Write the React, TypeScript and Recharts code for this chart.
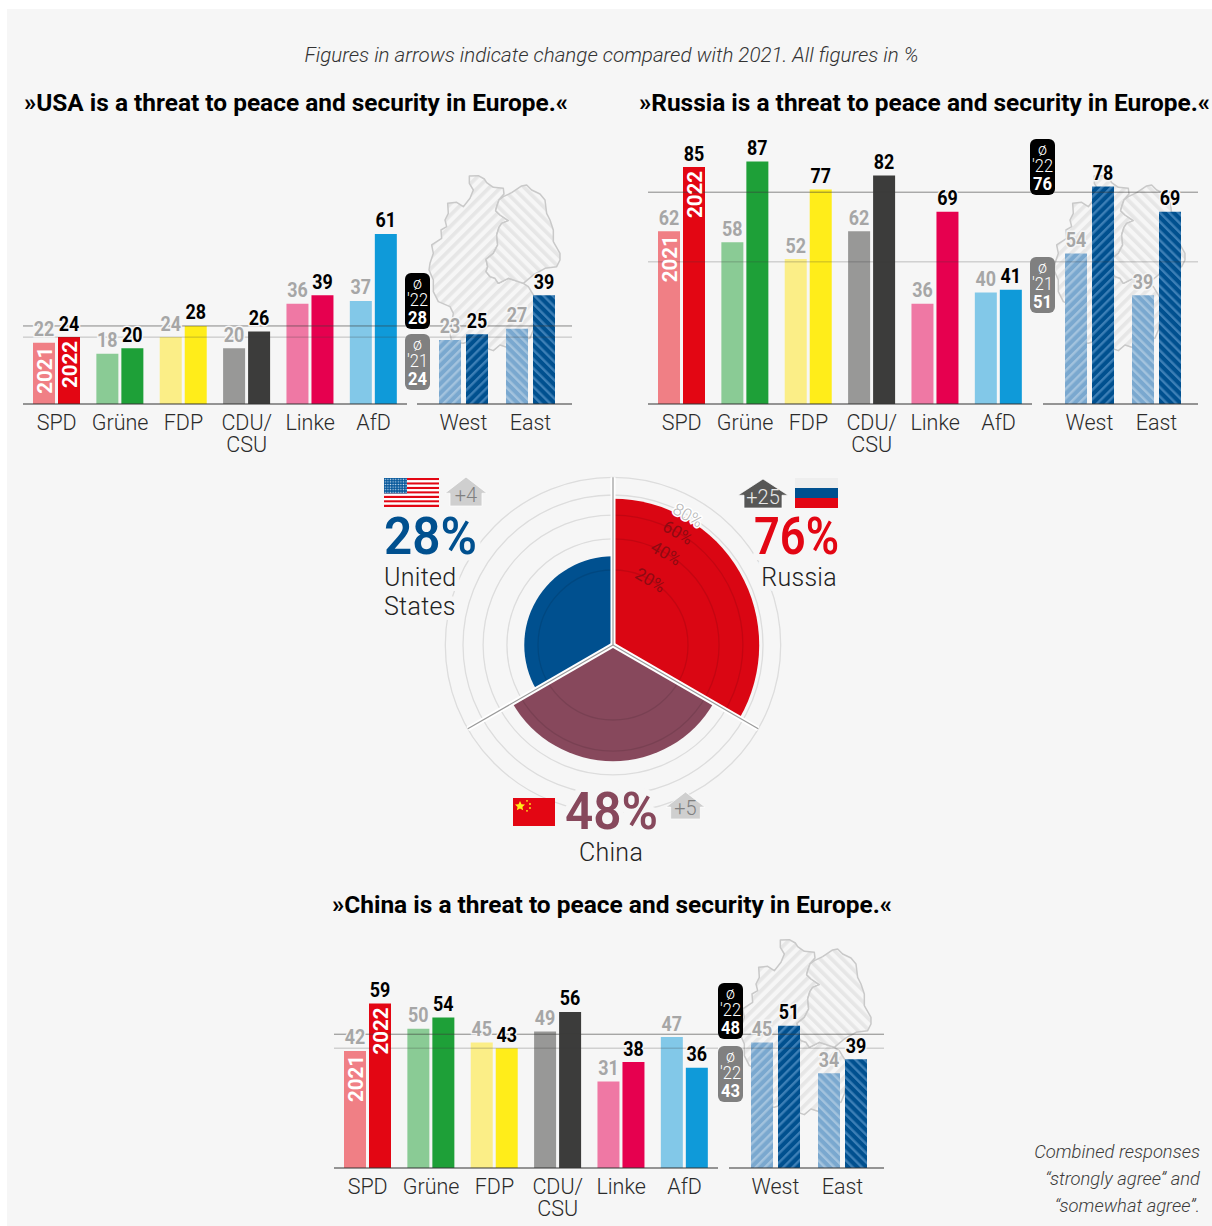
import React from 'react';
import {
  BarChart,
  Bar,
  Cell,
  LabelList,
  ReferenceLine,
  XAxis,
  YAxis,
  RadialBarChart,
  RadialBar,
  PolarAngleAxis,
  PolarRadiusAxis,
  PolarGrid,
} from 'recharts';

const PARTIES = ['SPD', 'Grüne', 'FDP', 'CDU/\nCSU', 'Linke', 'AfD'];
const REGIONS = ['West', 'East'];

const PARTY_COLORS_2021 = ['#f07f85', '#8acb95', '#fbee87', '#989897', '#ef78a4', '#82c8e8'];
const PARTY_COLORS_2022 = ['#e30613', '#1ea038', '#ffed1a', '#3c3c3b', '#e6004f', '#0f9ad9'];

const USA_PARTY_2021 = [22, 18, 24, 20, 36, 37];
const USA_PARTY_2022 = [24, 20, 28, 26, 39, 61];
const USA_REGION_2021 = [23, 27];
const USA_REGION_2022 = [25, 39];

const RUSSIA_PARTY_2021 = [62, 58, 52, 62, 36, 40];
const RUSSIA_PARTY_2022 = [85, 87, 77, 82, 69, 41];
const RUSSIA_REGION_2021 = [54, 39];
const RUSSIA_REGION_2022 = [78, 69];

const CHINA_PARTY_2021 = [42, 50, 45, 49, 31, 47];
const CHINA_PARTY_2022 = [59, 54, 43, 56, 38, 36];
const CHINA_REGION_2021 = [45, 34];
const CHINA_REGION_2022 = [51, 39];

const COUNTRIES = ['Russia', 'China', 'United States'];
const COUNTRY_SHARE = [76, 48, 28];
const COUNTRY_COLORS = ['#da0613', '#87485c', '#00508f'];
const RING_TICKS = [20, 40, 60, 80, 100];

const BG = '#f6f6f6';
const FONT = 'Roboto, sans-serif';

// outlines of the two halves of Germany behind the regional bars
const WEST_OUTLINE =
  'M133 18L160 17L178 27L185 38L205 52L235 55L237 72L222 90L215 110L212 122L225 135L250 152L230 160L222 172L215 195L218 225L205 250L183 268L188 290L183 305L195 320L210 325L220 340L250 325L280 335L295 340L310 350L325 375L340 400L332 440L325 480L315 505L285 510L255 535L225 525L205 542L185 535L145 510L115 520L80 515L75 490L85 430L75 410L40 395L25 365L25 330L12 300L15 280L25 250L20 225L50 205L48 180L65 170L60 150L70 130L68 100L95 97L115 110L135 85L145 60L133 40Z';
const EAST_OUTLINE =
  'M235 80L260 68L290 48L305 45L320 60L345 72L360 90L365 130L375 150L385 180L385 215L405 250L405 270L395 290L360 295L325 315L295 340L280 335L250 325L220 340L210 325L195 320L183 305L188 290L183 268L205 250L218 225L215 195L222 172L230 160L250 152L225 135L212 122L215 110L222 90Z';

function GermanyMap({ left, top }: { left: number; top: number }) {
  return (
    <svg style={{ position: 'absolute', left, top, overflow: 'visible' }} width={145} height={190}>
      <g transform="scale(0.3333)" strokeLinejoin="round">
        <path d={WEST_OUTLINE} fill="url(#map-west)" stroke="#c9c9c9" strokeWidth={4.5} />
        <path d={EAST_OUTLINE} fill="url(#map-east)" stroke="#c9c9c9" strokeWidth={4.5} />
      </g>
    </svg>
  );
}

function Hatch({ id, base, stripe, angle, period, size }: any) {
  return (
    <pattern id={id} patternUnits="userSpaceOnUse" width={period} height={period} patternTransform={`rotate(${angle})`}>
      <rect width={period} height={period} fill={base} />
      <rect width={size} height={period} fill={stripe} />
    </pattern>
  );
}

// value above a bar; the first pair of every chart also carries its year inside the bar
const valueLabel = (color: string, year?: string) => (props: any) => {
  const { x, y, width, value, index } = props;
  const cx = x + width / 2;
  return (
    <g>
      <text
        x={cx}
        y={y - 6.5}
        textAnchor="middle"
        fontFamily={FONT}
        fontWeight={700}
        fontSize={20}
        fill={color}
        stroke={BG}
        strokeWidth={3}
        paintOrder="stroke"
        textLength={20.5}
        lengthAdjust="spacingAndGlyphs"
      >
        {value}
      </text>
      {year && index === 0 ? (
        <text
          transform={`translate(${cx + 7.5},${y + 4}) rotate(-90)`}
          textAnchor="end"
          fontFamily={FONT}
          fontWeight={700}
          fontSize={21}
          fill="#fff"
          textLength={47}
          lengthAdjust="spacingAndGlyphs"
        >
          {year}
        </text>
      ) : null}
    </g>
  );
};

function CategoryTick({ x, y, payload }: any) {
  const lines = String(payload.value).split('\n');
  return (
    <text textAnchor="middle" fontFamily={FONT} fontWeight={300} fontSize={21.5} fill="#2b2b2b">
      {lines.map((line, i) => (
        <tspan key={line} x={x} y={y + 18 + i * 21.5}>
          {line}
        </tspan>
      ))}
    </text>
  );
}

const toRows = (names: string[], a: number[], b: number[]) =>
  names.map((name, i) => ({ name, y2021: a[i], y2022: b[i] }));

function GroupBars({ left, top, width, pad, gap, rows, mean22, mean21, fills21, fills22, withYear }: any) {
  return (
    <div style={{ position: 'absolute', left, top }}>
      <BarChart
        width={width}
        height={335}
        data={rows}
        margin={{ top: 0.3, right: 0, bottom: 0, left: 0 }}
        barSize={22}
        barGap={gap}
      >
        <XAxis
          dataKey="name"
          interval={0}
          height={56}
          padding={pad}
          tick={CategoryTick}
          tickLine={false}
          axisLine={{ stroke: '#333', strokeWidth: 1.2 }}
        />
        <YAxis hide domain={[0, 100]} />
        <Bar dataKey="y2021" isAnimationActive={false}>
          {rows.map((r: any, i: number) => (
            <Cell key={r.name} fill={fills21[i]} />
          ))}
          <LabelList dataKey="y2021" content={valueLabel('#a6a6a6', withYear ? '2021' : undefined)} />
        </Bar>
        <Bar dataKey="y2022" isAnimationActive={false}>
          {rows.map((r: any, i: number) => (
            <Cell key={r.name} fill={fills22[i]} />
          ))}
          <LabelList dataKey="y2022" content={valueLabel('#000', withYear ? '2022' : undefined)} />
        </Bar>
        <ReferenceLine y={mean22} stroke="#3c3c3b" strokeOpacity={0.6} />
        <ReferenceLine y={mean21} stroke="#3c3c3b" strokeOpacity={0.3} />
      </BarChart>
    </div>
  );
}

function MeanBadge({ x, y, fill, year, value }: any) {
  const cx = x + 12.5;
  const common = { x: cx, textAnchor: 'middle' as const, fontFamily: FONT, fill: '#fff' };
  return (
    <g>
      <rect x={x} y={y} width={25} height={56} rx={6} fill={fill} />
      <text {...common} y={y + 16} fontSize={16} fontWeight={300}>
        ø
      </text>
      <text {...common} y={y + 33} fontSize={18} fontWeight={300} textLength={21} lengthAdjust="spacingAndGlyphs">
        {year}
      </text>
      <text {...common} y={y + 50.5} fontSize={19} fontWeight={700} textLength={19} lengthAdjust="spacingAndGlyphs">
        {value}
      </text>
    </g>
  );
}

function ThreatGroup({ dx, dy, regionDx, badgeX, party21, party22, region21, region22, mean22, mean21, badge21Year, badgeTop, badge21Top }: any) {
  const regionFills21 = ['url(#west-21)', 'url(#east-21)'];
  const regionFills22 = ['url(#west-22)', 'url(#east-22)'];
  return (
    <>
      <GermanyMap left={425 + dx} top={170 + dy} />
      <GroupBars
        left={23 + dx}
        top={125 + dy}
        width={384}
        gap={3}
        pad={{ left: 2, right: 1.8 }}
        rows={toRows(PARTIES, party21, party22)}
        mean22={mean22}
        mean21={mean21}
        fills21={PARTY_COLORS_2021}
        fills22={PARTY_COLORS_2022}
        withYear
      />
      <GroupBars
        left={417 + regionDx}
        top={125 + dy}
        width={155}
        gap={5}
        pad={{ left: 13, right: 8 }}
        rows={toRows(REGIONS, region21, region22)}
        mean22={mean22}
        mean21={mean21}
        fills21={regionFills21}
        fills22={regionFills22}
      />
      <svg style={{ position: 'absolute', left: 0, top: 0, overflow: 'visible' }} width={1212} height={1226}>
        <MeanBadge x={badgeX} y={badgeTop + dy} fill="#000" year="'22" value={mean22} />
        <MeanBadge x={badgeX} y={badge21Top + dy} fill="#808080" year={badge21Year} value={mean21} />
      </svg>
    </>
  );
}

function RingTick({ x, y, payload }: any) {
  if (payload.value === 100) return <g />;
  const outer = payload.value === 80;
  return (
    <text
      x={x}
      y={y + 6}
      transform={`rotate(30 ${x} ${y})`}
      textAnchor="middle"
      fontFamily={FONT}
      fontWeight={outer ? 300 : 400}
      fontSize={17}
      fill={outer ? '#b5b5b5' : '#8e0a12'}
      stroke={outer ? '#fff' : 'none'}
      strokeWidth={outer ? 3 : 0}
      paintOrder="stroke"
    >
      {payload.value}%
    </text>
  );
}

const polarRows = COUNTRIES.map((name, i) => ({ name, share: COUNTRY_SHARE[i] }));

const polarBase = {
  width: 400,
  height: 400,
  cx: 200,
  cy: 200,
  innerRadius: 0,
  outerRadius: 167.7,
  startAngle: -30,
  endAngle: -390,
  barCategoryGap: 0,
  layout: 'centric' as const,
  margin: { top: 0, right: 0, bottom: 0, left: 0 },
  data: polarRows,
};

// sqrt radius: ring spacing and sector length follow area, not radius
const radiusAxis = (tick: any) => (
  <PolarRadiusAxis
    type="number"
    scale="sqrt"
    domain={[0, 100]}
    ticks={RING_TICKS as any}
    angle={60}
    axisLine={false}
    tickLine={false}
    tick={tick}
  />
);

function RoseChart() {
  const spokes = [90, -30, -150];
  return (
    <>
      <div style={{ position: 'absolute', left: 413, top: 445 }}>
        <RadialBarChart {...polarBase}>
          <PolarAngleAxis type="category" dataKey="name" tick={false} axisLine={false} tickLine={false} />
          {radiusAxis(false)}
          <RadialBar dataKey="share" isAnimationActive={false}>
            {polarRows.map((r, i) => (
              <Cell key={r.name} fill={COUNTRY_COLORS[i]} />
            ))}
          </RadialBar>
        </RadialBarChart>
      </div>
      {/* rings, spokes and ring labels sit over the sectors; the transparent series keeps the axes alive */}
      <div style={{ position: 'absolute', left: 413, top: 445 }}>
        <RadialBarChart {...polarBase}>
          <PolarAngleAxis type="category" dataKey="name" tick={false} axisLine={false} tickLine={false} />
          {radiusAxis(RingTick)}
          <RadialBar dataKey="share" fill="transparent" isAnimationActive={false} />
          <PolarGrid gridType="circle" radialLines={false} stroke="#000" strokeOpacity={0.1} strokeWidth={1.3} />
          <PolarGrid gridType="circle" polarRadius={[]} polarAngles={spokes} stroke="#fff" strokeWidth={5} />
          <PolarGrid gridType="circle" polarRadius={[]} polarAngles={spokes} stroke="#9a9a9a" strokeWidth={1.2} />
        </RadialBarChart>
      </div>
    </>
  );
}

function UsFlag({ x, y }: { x: number; y: number }) {
  const stripes = Array.from({ length: 13 }, (_, i) => i);
  return (
    <g transform={`translate(${x},${y})`}>
      {stripes.map((i) => (
        <rect key={i} y={(i * 29) / 13} width={55} height={29 / 13} fill={i % 2 ? '#fff' : '#e30613'} />
      ))}
      <rect width={23} height={15.5} fill="#0a5a9c" />
      <rect width={23} height={15.5} fill="url(#us-stars)" />
    </g>
  );
}

function ChinaFlag({ x, y }: { x: number; y: number }) {
  return (
    <g transform={`translate(${x},${y})`}>
      <rect width={42} height={28} fill="#e30613" />
      <polygon points="7,3 8.5,6.2 12,6.6 9.4,8.9 10.2,12.3 7,10.5 3.8,12.3 4.6,8.9 2,6.6 5.5,6.2" fill="#ffed1a" />
      <circle cx={14} cy={2.8} r={0.9} fill="#ffed1a" />
      <circle cx={17} cy={6} r={0.9} fill="#ffed1a" />
      <circle cx={17} cy={10} r={0.9} fill="#ffed1a" />
      <circle cx={14} cy={12.8} r={0.9} fill="#ffed1a" />
    </g>
  );
}

function ChangeArrow({ x, y, w, h, fill, label, color }: any) {
  const inset = w * 0.12;
  const shoulder = h * 0.56;
  const pts = [
    [x + w / 2, y],
    [x + w, y + shoulder],
    [x + w - inset, y + shoulder],
    [x + w - inset, y + h],
    [x + inset, y + h],
    [x + inset, y + shoulder],
    [x, y + shoulder],
  ]
    .map((p) => p.join(','))
    .join(' ');
  return (
    <g>
      <polygon points={pts} fill={fill} stroke="#fff" strokeOpacity={0.7} />
      <text x={x + w / 2} y={y + h - 4} textAnchor="middle" fontFamily={FONT} fontWeight={300} fontSize={20} fill={color}>
        {label}
      </text>
    </g>
  );
}

function Title({ x, width, y, children }: any) {
  return (
    <text x={x} y={y} fontFamily={FONT} fontWeight={700} fontSize={24} fill="#000" textLength={width} lengthAdjust="spacingAndGlyphs">
      {children}
    </text>
  );
}

function Big({ x, y, anchor, fill, length, children }: any) {
  return (
    <text
      x={x}
      y={y}
      textAnchor={anchor}
      fontFamily={FONT}
      fontWeight={600}
      fontSize={51}
      fill={fill}
      stroke={BG}
      strokeWidth={12}
      paintOrder="stroke"
      textLength={length}
      lengthAdjust="spacingAndGlyphs"
    >
      {children}
    </text>
  );
}

function Name({ x, y, anchor, children }: any) {
  return (
    <text
      x={x}
      y={y}
      textAnchor={anchor}
      fontFamily={FONT}
      fontWeight={300}
      fontSize={25}
      letterSpacing={0.3}
      fill="#222"
      stroke={BG}
      strokeWidth={10}
      paintOrder="stroke"
    >
      {children}
    </text>
  );
}

export default function App() {
  return (
    <div style={{ position: 'absolute', left: 0, top: 0, width: 1212, height: 1226, background: '#fff', overflow: 'hidden' }}>
      <div style={{ position: 'absolute', left: 7, top: 9, width: 1205, height: 1217, background: BG }} />
      <svg style={{ position: 'absolute', width: 0, height: 0 }}>
        <defs>
          <Hatch id="west-21" base="#7aa8cf" stripe="#a3c3de" angle={45} period={6.5} size={2.4} />
          <Hatch id="west-22" base="#00508f" stripe="#3d7fb6" angle={45} period={6.5} size={2.4} />
          <Hatch id="east-21" base="#7aa8cf" stripe="#a3c3de" angle={-45} period={6.5} size={2.4} />
          <Hatch id="east-22" base="#00508f" stripe="#3d7fb6" angle={-45} period={6.5} size={2.4} />
          <Hatch id="map-west" base={BG} stripe="#e6e6e6" angle={45} period={24} size={11} />
          <Hatch id="map-east" base={BG} stripe="#e6e6e6" angle={-45} period={24} size={11} />
          <pattern id="us-stars" patternUnits="userSpaceOnUse" width={2.6} height={2.6}>
            <circle cx={1.3} cy={1.3} r={0.7} fill="#cfe0ee" />
          </pattern>
        </defs>
      </svg>

      <ThreatGroup
        dx={0}
        dy={0}
        regionDx={0}
        badgeX={405}
        party21={USA_PARTY_2021}
        party22={USA_PARTY_2022}
        region21={USA_REGION_2021}
        region22={USA_REGION_2022}
        mean22={28}
        mean21={24}
        badge21Year="'21"
        badgeTop={273}
        badge21Top={334}
      />
      <ThreatGroup
        dx={625}
        dy={0}
        regionDx={626}
        badgeX={1030}
        party21={RUSSIA_PARTY_2021}
        party22={RUSSIA_PARTY_2022}
        region21={RUSSIA_REGION_2021}
        region22={RUSSIA_REGION_2022}
        mean22={76}
        mean21={51}
        badge21Year="'21"
        badgeTop={139}
        badge21Top={257}
      />
      <ThreatGroup
        dx={311}
        dy={764}
        regionDx={312}
        badgeX={718}
        party21={CHINA_PARTY_2021}
        party22={CHINA_PARTY_2022}
        region21={CHINA_REGION_2021}
        region22={CHINA_REGION_2022}
        mean22={48}
        mean21={43}
        badge21Year="'22"
        badgeTop={219}
        badge21Top={282}
      />

      <RoseChart />

      <svg style={{ position: 'absolute', left: 0, top: 0 }} width={1212} height={1226}>
        <text
          x={611.5}
          y={62}
          textAnchor="middle"
          fontFamily={FONT}
          fontWeight={300}
          fontStyle="italic"
          fontSize={20}
          fill="#333"
          textLength={614}
          lengthAdjust="spacingAndGlyphs"
        >
          Figures in arrows indicate change compared with 2021. All figures in %
        </text>
        <Title x={24} y={111} width={544}>»USA is a threat to peace and security in Europe.«</Title>
        <Title x={639} y={111} width={571}>»Russia is a threat to peace and security in Europe.«</Title>
        <Title x={332} y={913} width={560}>»China is a threat to peace and security in Europe.«</Title>

        <Big x={384} y={554} anchor="start" fill="#00508f" length={93}>28%</Big>
        <Name x={384} y={586} anchor="start">United</Name>
        <Name x={384} y={615} anchor="start">States</Name>
        <UsFlag x={384} y={478} />
        <ChangeArrow x={445} y={477} w={42} h={29} fill="#cfcfcf" color="#808080" label="+4" />

        <Big x={754} y={554} anchor="start" fill="#e30613" length={85}>76%</Big>
        <Name x={837} y={586} anchor="end">Russia</Name>
        <rect x={795} y={478} width={43} height={10} fill="#eeeeee" />
        <rect x={795} y={488} width={43} height={10} fill="#00508f" />
        <rect x={795} y={498} width={43} height={10} fill="#e30613" />
        <ChangeArrow x={738} y={479} w={50} h={29} fill="#575756" color="#e8e8e8" label="+25" />

        <Big x={565} y={829} anchor="start" fill="#87485c" length={93}>48%</Big>
        <Name x={611} y={861} anchor="middle">China</Name>
        <ChinaFlag x={513} y={798} />
        <ChangeArrow x={666} y={792} w={39} h={27} fill="#cfcfcf" color="#808080" label="+5" />

        <g fontFamily={FONT} fontWeight={300} fontStyle="italic" fontSize={18.4} fill="#3c3c3b" textAnchor="end">
          <text x={1200} y={1158}>Combined responses</text>
          <text x={1200} y={1185}>“strongly agree” and</text>
          <text x={1200} y={1212}>“somewhat agree”.</text>
        </g>
      </svg>
    </div>
  );
}
